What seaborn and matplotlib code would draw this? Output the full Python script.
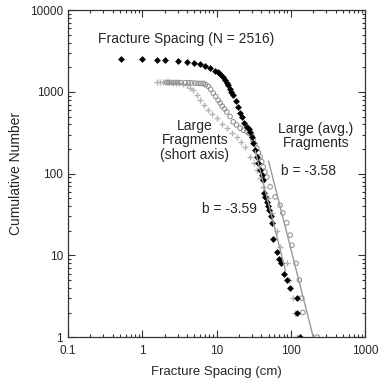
import numpy as np
import pandas as pd
import matplotlib
matplotlib.use("Agg")
import matplotlib.pyplot as plt
from matplotlib.ticker import LogLocator, NullFormatter, FixedLocator, FixedFormatter
import seaborn as sns

# Fracture spacing (black diamonds)
spacing_x = [0.51, 0.98, 1.57, 2.02, 3.0, 4.0, 5.0, 6.0, 7.0, 8.2, 9.5, 10.3, 11.1, 12.2,
             13.0, 13.7, 14.3, 15.0, 15.8, 16.7, 18.0, 19.4, 20.5, 21.8, 23.5, 25.6, 27.0,
             28.3, 29.5, 31.0, 33.0, 34.9, 36.5, 38.6, 40.5, 42.3, 43.6, 45.5, 47.3, 49.0,
             51.3, 53.5, 55.8, 58.0, 65.0, 68.8, 73.4, 81.0, 88.0, 96.0, 120.0, 122.0, 133.0]
spacing_y = [2516, 2500, 2480, 2450, 2400, 2350, 2260, 2180, 2080, 1940, 1810, 1750, 1680, 1530,
             1390, 1280, 1200, 1100, 1000, 912, 780, 650, 560, 490, 420, 374, 350,
             325, 280, 236, 195, 160, 135, 110, 95, 83, 58, 52, 45, 40,
             36, 30, 25, 16, 11, 9, 8, 6, 5, 4, 3, 2, 1]

# Large fragments, average axis (open circles)
avg_x = [2.13, 2.3, 2.5, 2.76, 3.0, 3.3, 3.77, 4.2, 4.6, 5.1, 5.6, 6.1, 6.6, 7.1, 7.7, 8.3,
         9.0, 9.7, 10.5, 11.2, 11.9, 12.8, 13.7, 15.2, 16.7, 18.5, 20.7, 23.0, 25.5, 27.5,
         29.8, 31.0, 32.8, 34.8, 36.5, 38.5, 40.5, 42.3, 44.8, 47.4, 52.5, 61.3, 71.6,
         78.0, 88.0, 97.7, 103.0, 117.6, 130.0, 140.0, 145.0, 227.0]
avg_y = [1306, 1306, 1305, 1306, 1304, 1302, 1300, 1295, 1290, 1280, 1276, 1272, 1270, 1230,
         1175, 1080, 966, 880, 793, 730, 670, 620, 570, 500, 430, 395, 360, 340, 325, 310,
         296, 257, 230, 205, 182, 160, 140, 121, 105, 91, 69, 52, 41,
         33, 25, 17.7, 13.3, 8, 5, 3, 2, 1]

# Large fragments, short axis (crosses)
short_x = [1.57, 1.75, 1.9, 2.09, 2.3, 2.55, 2.85, 3.15, 3.5, 3.97, 4.4, 4.83, 5.4, 6.0, 6.8,
           7.7, 8.8, 10.1, 11.8, 13.7, 16.0, 18.7, 21.3, 24.2, 28.3, 31.5, 34.8, 38.5, 42.3,
           49.4, 55.4, 64.7, 71.6, 88.0, 95.6, 107.0, 112.0, 122.0]
short_y = [1327, 1325, 1320, 1310, 1305, 1300, 1290, 1270, 1240, 1210, 1130, 1050, 920, 793, 690,
           598, 530, 473, 410, 357, 315, 282, 245, 213, 160, 135, 110, 88, 69,
           50, 33, 20, 12.7, 8, 5, 3, 2, 1]

# power-law fits, N ~ x^b
fit_avg_x = [50.0, 200.0]
fit_avg_b = -3.58
fit_short_x = [33.0, 85.0]
fit_short_b = -3.59

df_sp = pd.DataFrame({"x": spacing_x, "y": spacing_y})
df_avg = pd.DataFrame({"x": avg_x, "y": avg_y})
df_sh = pd.DataFrame({"x": short_x, "y": short_y})

fa = np.array(fit_avg_x)
df_fa = pd.DataFrame({"x": fa, "y": 1.0 * (fa / 200.0) ** fit_avg_b})
fs = np.array(fit_short_x)
df_fs = pd.DataFrame({"x": fs, "y": 110.0 * (fs / 38.5) ** fit_short_b})

sns.set_style("ticks")
plt.rcParams['font.family'] = ['Liberation Sans', 'DejaVu Sans']

fig = plt.figure(figsize=(3.8, 3.92), dpi=100)
ax = fig.add_axes([0.179, 0.140, 0.782, 0.834])

gray = '#999999'
sns.lineplot(data=df_fa, x="x", y="y", ax=ax, color=gray, lw=1.0)
sns.lineplot(data=df_fs, x="x", y="y", ax=ax, color=gray, lw=1.0)
sns.scatterplot(data=df_sh, x="x", y="y", ax=ax, marker='+', color='#b4b4b4', s=22,
                linewidth=1.0)
sns.scatterplot(data=df_avg, x="x", y="y", ax=ax, marker='o', facecolor='none',
                edgecolor='#8c8c8c', s=11, linewidth=0.7)
sns.scatterplot(data=df_sp, x="x", y="y", ax=ax, marker='D', color='black', s=12,
                linewidth=0)

ax.set_xscale('log')
ax.set_yscale('log')
ax.set_xlim(0.1, 1000)
ax.set_ylim(1, 10000)

xt = [0.1, 1, 10, 100, 1000]
yt = [1, 10, 100, 1000, 10000]
ax.xaxis.set_major_locator(FixedLocator(xt))
ax.xaxis.set_major_formatter(FixedFormatter(['0.1', '1', '10', '100', '1000']))
ax.yaxis.set_major_locator(FixedLocator(yt))
ax.yaxis.set_major_formatter(FixedFormatter(['1', '10', '100', '1000', '10000']))
ax.xaxis.set_minor_locator(LogLocator(base=10, subs=np.arange(2, 10), numticks=20))
ax.yaxis.set_minor_locator(LogLocator(base=10, subs=np.arange(2, 10), numticks=20))
ax.xaxis.set_minor_formatter(NullFormatter())
ax.yaxis.set_minor_formatter(NullFormatter())

ax.tick_params(which='both', direction='in', top=True, right=True, color='#333333',
               labelsize=8.5, width=0.8)
ax.tick_params(which='major', length=5)
ax.tick_params(which='minor', length=2.5)
ax.tick_params(axis='x', which='major', pad=6)
for s in ax.spines.values():
    s.set_color('#333333')
    s.set_linewidth(0.9)

ax.set_xlabel('Fracture Spacing (cm)', fontsize=9.5, labelpad=6)
ax.set_ylabel('Cumulative Number', fontsize=10, labelpad=5)

ax.text(0.25, 4500, 'Fracture Spacing (N = 2516)', fontsize=10, ha='left', va='center')
ax.text(5.1, 257, 'Large\nFragments\n(short axis)', fontsize=10, ha='center', va='center',
        linespacing=1.05)
ax.text(218, 288, 'Large (avg.)\nFragments', fontsize=10, ha='center', va='center',
        linespacing=1.05)
ax.text(171, 107, 'b = -3.58', fontsize=10, ha='center', va='center')
ax.text(15, 37, 'b = -3.59', fontsize=10, ha='center', va='center')

fig.savefig('out.png', dpi=100)
